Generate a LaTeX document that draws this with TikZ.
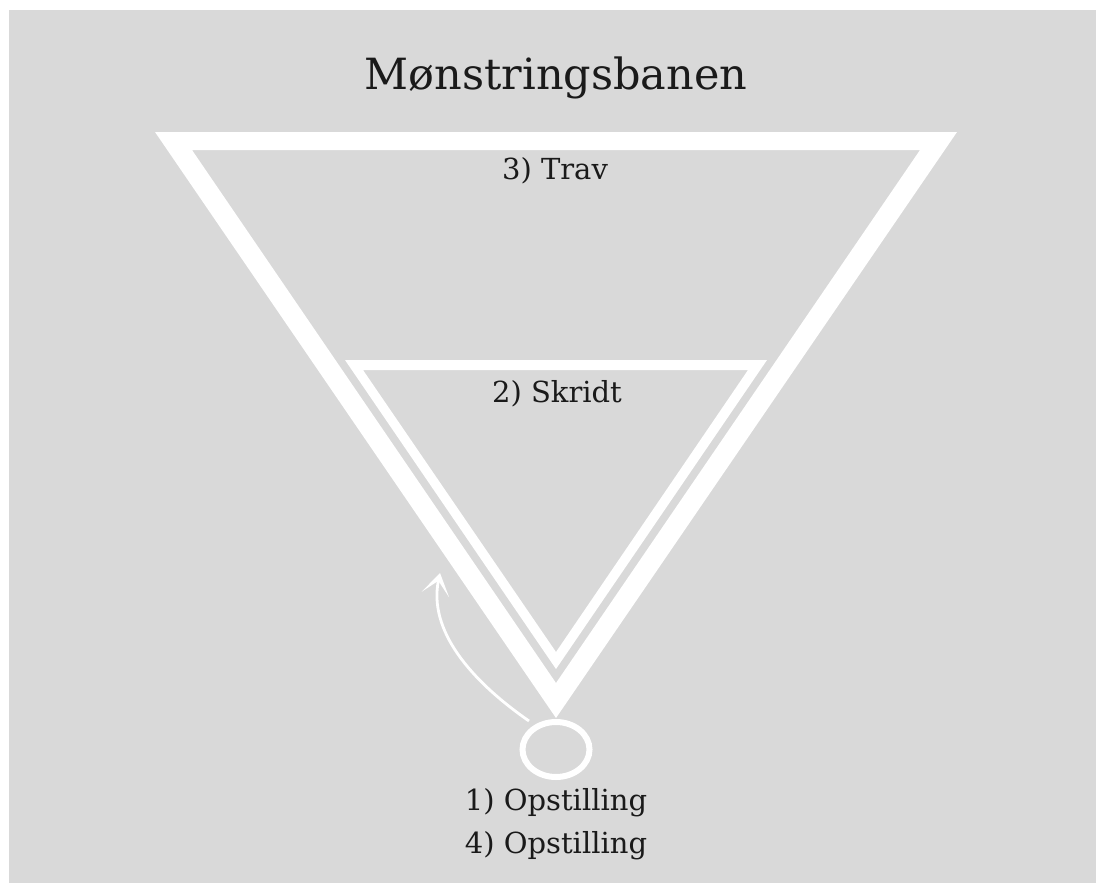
\documentclass[tikz,border=0pt]{standalone}
\usepackage{fontspec}
\setmainfont{DejaVu Serif}
\usetikzlibrary{shapes.geometric,arrows.meta}
\definecolor{bggray}{HTML}{D9D9D9}
\definecolor{inkc}{HTML}{1A1A1A}
\tikzset{
  band/.style={fill=white, even odd rule},
  lbl/.style={anchor=base, text=inkc, inner sep=0pt, font=\fontsize{14.5}{17}\selectfont},
  ttl/.style={anchor=base, text=inkc, inner sep=0pt, font=\fontsize{21.5}{25}\selectfont},
  ring/.style={ellipse, draw=white, line width=3pt, minimum width=33.5pt, minimum height=27.5pt, inner sep=0pt, outer sep=0pt},
  curvearrow/.style={draw=white, line width=1.4pt, -{Stealth[length=11pt, width=14pt, inset=7pt]}}
}
\begin{document}
\begin{tikzpicture}[x=0.5pt,y=-0.5pt]
\useasboundingbox (0,0) rectangle (1096,883);
\fill[bggray] (9,10) rectangle (1096,883);
% outer triangle band
\fill[band] (155,132) -- (957,132) -- (556,718) -- cycle
            (192,150) -- (920,150) -- (556,683) -- cycle;
% inner triangle band
\fill[band] (345,360) -- (767,360) -- (556,669) -- cycle
            (363,370) -- (748,370) -- (556,652) -- cycle;
% texts
\node[ttl] (title) at (556,90) {Mønstringsbanen};
\node[lbl] (trav) at (555,179) {3) Trav};
\node[lbl] (skridt) at (557,402) {2) Skridt};
\node[lbl] (ops1) at (556,810) {1) Opstilling};
\node[lbl] (ops4) at (556,853) {4) Opstilling};
% start ring
\node[ring] (start) at (556,749.5) {};
\coordinate (a0) at (529,721);
\coordinate (a1) at (440,573);
\draw[curvearrow] (a0) .. controls (470,680) and (428,630) .. (a1);
\end{tikzpicture}
\end{document}
